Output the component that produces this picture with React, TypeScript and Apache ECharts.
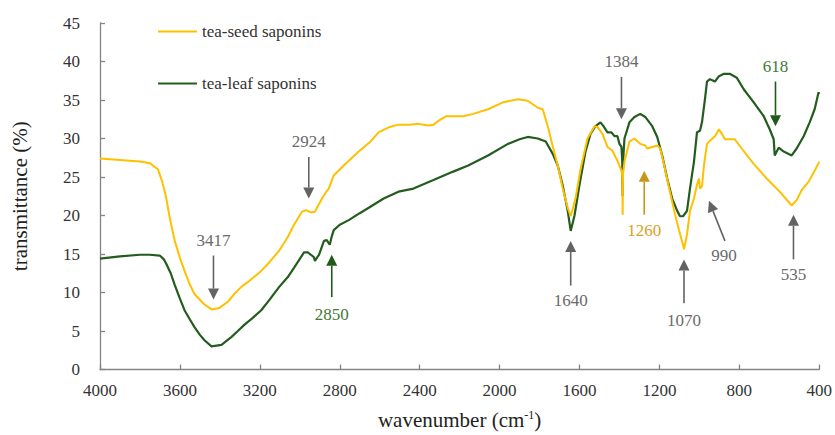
import React, { useEffect, useRef } from "react";
import * as echarts from "echarts";

const FONT = "'Liberation Serif', 'Times New Roman', serif";

// tea-seed saponins (yellow)
const seedWn = [4000, 3900, 3800, 3750, 3726, 3710, 3690, 3670, 3651, 3626, 3600, 3577, 3550, 3527, 3480, 3442, 3402, 3360, 3328, 3290, 3253, 3193, 3150, 3104, 3060, 3029, 2989, 2969, 2944, 2924, 2914, 2889, 2870, 2855, 2830, 2780, 2705, 2650, 2606, 2550, 2506, 2450, 2406, 2356, 2330, 2306, 2267, 2182, 2132, 2058, 1983, 1908, 1859, 1809, 1784, 1759, 1734, 1709, 1684, 1659, 1644, 1620, 1595, 1560, 1525, 1510, 1485, 1460, 1435, 1410, 1390, 1385, 1384, 1382, 1375, 1350, 1325, 1296, 1271, 1261, 1236, 1211, 1196, 1176, 1151, 1126, 1101, 1082, 1077, 1062, 1047, 1027, 1012, 1002, 997, 987, 977, 962, 947, 922, 902, 887, 872, 823, 788, 728, 663, 598, 538, 513, 488, 453, 423, 400];
const seedT = [27.4, 27.2, 27.0, 26.8, 26.3, 26.0, 24.5, 22.5, 19.7, 16.7, 14.5, 12.8, 11.0, 9.8, 8.5, 7.8, 8.0, 8.8, 9.8, 10.8, 11.5, 12.8, 14.0, 15.4, 17.2, 18.8, 20.5, 20.7, 20.4, 20.5, 21.0, 22.2, 23.0, 23.5, 25.2, 26.5, 28.3, 29.5, 30.8, 31.5, 31.8, 31.8, 31.9, 31.7, 31.8, 32.3, 32.9, 32.9, 33.2, 33.8, 34.7, 35.1, 34.9, 34.0, 33.8, 31.6, 29.0, 26.5, 23.5, 21.0, 19.9, 22.2, 26.0, 30.0, 31.6, 31.5, 30.6, 28.9, 28.4, 27.1, 25.8, 25.0, 20.1, 25.5, 27.0, 29.6, 30.0, 29.3, 29.1, 28.7, 28.9, 29.1, 28.7, 26.5, 23.5, 20.6, 18.0, 16.2, 15.6, 17.5, 20.6, 22.2, 24.0, 24.8, 23.5, 23.8, 26.5, 29.3, 29.7, 30.3, 31.2, 30.6, 29.9, 29.9, 28.7, 26.7, 24.8, 23.1, 21.3, 22.0, 23.3, 24.4, 25.8, 27.0];

// tea-leaf saponins (dark green)
const leafWn = [4000, 3900, 3800, 3751, 3701, 3680, 3666, 3646, 3626, 3600, 3577, 3550, 3527, 3500, 3477, 3442, 3392, 3343, 3310, 3278, 3240, 3193, 3150, 3104, 3060, 3029, 2979, 2960, 2944, 2930, 2924, 2915, 2904, 2879, 2865, 2850, 2840, 2830, 2800, 2755, 2700, 2655, 2580, 2506, 2431, 2331, 2232, 2157, 2058, 1958, 1900, 1859, 1809, 1769, 1734, 1709, 1684, 1659, 1644, 1625, 1600, 1570, 1545, 1520, 1495, 1480, 1460, 1440, 1425, 1410, 1400, 1390, 1386, 1384, 1382, 1375, 1350, 1325, 1296, 1271, 1236, 1211, 1186, 1161, 1136, 1111, 1097, 1082, 1062, 1047, 1027, 1012, 997, 987, 972, 962, 947, 922, 902, 877, 848, 813, 778, 728, 678, 648, 628, 623, 603, 578, 538, 513, 478, 448, 423, 408, 403, 400];
const leafT = [14.4, 14.7, 14.9, 14.9, 14.8, 14.3, 13.6, 12.5, 11.0, 9.2, 7.7, 6.5, 5.5, 4.5, 3.8, 3.0, 3.2, 4.2, 5.0, 5.8, 6.6, 7.7, 9.1, 10.7, 12.0, 13.2, 15.2, 15.2, 14.9, 14.6, 14.1, 14.5, 14.9, 16.7, 16.8, 16.2, 17.3, 18.1, 18.8, 19.4, 20.3, 21.0, 22.2, 23.1, 23.5, 24.6, 25.7, 26.5, 27.8, 29.3, 29.9, 30.2, 30.0, 29.6, 28.0, 26.5, 23.9, 20.6, 18.0, 20.0, 24.0, 28.3, 30.6, 31.6, 32.1, 31.6, 30.8, 30.8, 30.3, 30.3, 29.3, 28.9, 27.0, 22.5, 27.0, 30.0, 32.1, 32.8, 33.2, 32.8, 31.6, 30.2, 27.8, 24.8, 22.2, 20.6, 19.9, 19.9, 20.6, 23.5, 27.0, 30.8, 31.0, 32.1, 35.1, 37.4, 37.7, 37.4, 38.1, 38.4, 38.4, 37.9, 36.4, 34.7, 32.9, 31.2, 29.9, 27.8, 28.8, 28.3, 27.8, 28.7, 30.3, 32.1, 33.8, 35.5, 36.0, 35.8];

const xTicks = [4000, 3600, 3200, 2800, 2400, 2000, 1600, 1200, 800, 400];
const yTicks = [0, 5, 10, 15, 20, 25, 30, 35, 40, 45];

// peak annotations: label, label position (wavenumber, T), arrow tail, arrow tip, colour group
const annLabels = ["3417", "2924", "2850", "1640", "1384", "1260", "1070", "990", "535", "618"];
const annTextX = [3432, 2955, 2840, 1644, 1390, 1276, 1077, 877, 529, 619];
const annTextY = [16.8, 29.6, 7.2, 9.0, 40.0, 18.1, 6.4, 14.8, 12.3, 39.3];
const annTailX = [3432, 2955, 2840, 1644, 1390, 1276, 1077, 872, 529, 619];
const annTailY = [14.8, 27.6, 9.4, 10.9, 38.0, 20.1, 8.6, 16.7, 14.3, 37.4];
const annTipX = [3432, 2955, 2840, 1644, 1390, 1276, 1077, 952, 529, 619];
const annTipY = [9.1, 22.2, 14.9, 16.7, 32.5, 25.8, 14.3, 21.9, 20.1, 31.6];
const annGroup = [0, 0, 1, 0, 0, 2, 0, 0, 0, 1];

const arrowColors = ["#636363", "#1f5a1a", "#c9961a"];
const textColors = ["#6a6a6a", "#3f7a35", "#d9a21e"];

export default function App() {
  const ref = useRef<HTMLDivElement>(null);
  useEffect(() => {
    if (!ref.current) return;
    document.body.style.margin = "0";
    const chart = echarts.init(ref.current, undefined, { renderer: "svg" });
    const seedData = seedWn.map((w, i) => [w, seedT[i]]);
    const leafData = leafWn.map((w, i) => [w, leafT[i]]);
    const annData = annLabels.map((_, i) => [annTextX[i], annTextY[i], annTailX[i], annTailY[i], annTipX[i], annTipY[i], annGroup[i]]);
    chart.setOption({
      animation: false,
      backgroundColor: "#ffffff",
      textStyle: { fontFamily: FONT },
      grid: { left: 100, right: 12, top: 23, bottom: 62 },
      legend: {
        data: ["tea-seed saponins", "tea-leaf saponins"],
        orient: "vertical",
        left: 153,
        top: 18,
        icon: "rect",
        itemWidth: 39,
        itemHeight: 2,
        itemGap: 35,
        textStyle: { fontFamily: FONT, fontSize: 17, color: "#333" },
      },
      xAxis: {
        type: "value",
        min: 400,
        max: 4000,
        interval: 400,
        inverse: true,
        name: "wavenumber (cm{sup|-1})",
        nameLocation: "middle",
        nameGap: 39,
        nameTextStyle: {
          fontFamily: FONT,
          fontSize: 21,
          color: "#222",
          rich: { sup: { fontSize: 12, fontFamily: FONT, color: "#222", verticalAlign: "top", padding: [0, 0, 10, 0] } },
        },
        axisLine: { lineStyle: { color: "#858585", width: 1.3 } },
        axisTick: { inside: true, length: 5, lineStyle: { color: "#858585", width: 1.3 } },
        axisLabel: {
          fontFamily: FONT,
          fontSize: 17,
          color: "#333",
          margin: 12,
          formatter: (v: number) => (xTicks.includes(v) ? String(v) : ""),
        },
        splitLine: { show: false },
      },
      yAxis: {
        type: "value",
        min: 0,
        max: 45,
        interval: 5,
        name: "transmittance (%)",
        nameLocation: "middle",
        nameGap: 70,
        nameTextStyle: { fontFamily: FONT, fontSize: 21, color: "#222" },
        axisLine: { show: true, lineStyle: { color: "#858585", width: 1.3 } },
        axisTick: { show: true, inside: true, length: 5, lineStyle: { color: "#858585", width: 1.3 } },
        axisLabel: {
          fontFamily: FONT,
          fontSize: 17,
          color: "#333",
          margin: 20,
          formatter: (v: number) => (yTicks.includes(v) ? String(v) : ""),
        },
        splitLine: { show: false },
      },
      series: [
        {
          name: "tea-seed saponins",
          type: "line",
          data: seedData,
          symbol: "none",
          smooth: false,
          lineStyle: { color: "#ffc000", width: 2 },
          itemStyle: { color: "#ffc000" },
          z: 3,
        },
        {
          name: "tea-leaf saponins",
          type: "line",
          data: leafData,
          symbol: "none",
          smooth: false,
          lineStyle: { color: "#235c1e", width: 2.2 },
          itemStyle: { color: "#235c1e" },
          z: 2,
        },
        {
          name: "annotations",
          type: "custom",
          clip: false,
          silent: true,
          z: 5,
          encode: { x: 0, y: 1 },
          data: annData,
          renderItem: (params: any, api: any) => {
            const i = params.dataIndex;
            const t = api.coord([api.value(0), api.value(1)]);
            const a = api.coord([api.value(2), api.value(3)]);
            const b = api.coord([api.value(4), api.value(5)]);
            const g = api.value(6);
            const col = arrowColors[g];
            const dx = b[0] - a[0];
            const dy = b[1] - a[1];
            const len = Math.hypot(dx, dy) || 1;
            const ux = dx / len;
            const uy = dy / len;
            const hl = 11;
            const hw = 5.5;
            const base = [b[0] - ux * hl, b[1] - uy * hl];
            const px = -uy;
            const py = ux;
            return {
              type: "group",
              children: [
                {
                  type: "line",
                  shape: { x1: a[0], y1: a[1], x2: base[0], y2: base[1] },
                  style: { stroke: col, lineWidth: 1.6 },
                },
                {
                  type: "polygon",
                  shape: {
                    points: [
                      [b[0], b[1]],
                      [base[0] + px * hw, base[1] + py * hw],
                      [base[0] - px * hw, base[1] - py * hw],
                    ],
                  },
                  style: { fill: col },
                },
                {
                  type: "text",
                  x: t[0],
                  y: t[1],
                  style: {
                    text: annLabels[i],
                    fill: textColors[g],
                    fontSize: 17,
                    fontFamily: FONT,
                    align: "center",
                    verticalAlign: "middle",
                  },
                },
              ],
            };
          },
        },
      ],
    });
    return () => chart.dispose();
  }, []);
  return <div ref={ref} style={{ position: "fixed", left: 0, top: 0, width: 835, height: 435 }} />;
}
